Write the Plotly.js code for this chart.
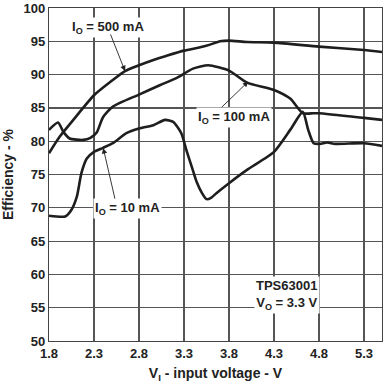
<!DOCTYPE html>
<html><head><meta charset="utf-8">
<script src="https://cdn.plot.ly/plotly-3.0.1.min.js"></script>
<style>html,body{margin:0;padding:0;background:#fff}#c{width:383px;height:392px}</style>
</head><body><div id="c"></div>
<script>
// I_O = 500 mA
const x500 = [1.80,1.92,2.07,2.30,2.51,2.64,2.80,2.96,3.10,3.30,3.48,3.59,3.70,3.80,4.00,4.30,4.80,5.30,5.50];
const y500 = [78.2,80.7,83.2,86.9,89.2,90.5,91.4,92.2,92.8,93.6,94.1,94.5,95.0,95.1,94.9,94.8,94.2,93.7,93.4];
// I_O = 100 mA
const x100 = [1.80,1.90,1.96,2.03,2.18,2.26,2.33,2.40,2.51,2.80,3.03,3.22,3.40,3.57,3.80,4.00,4.30,4.48,4.62,4.74,4.80,5.30,5.50];
const y100 = [81.7,82.8,81.4,80.4,80.2,80.5,81.3,83.6,85.2,87.0,88.4,89.5,90.9,91.4,90.6,88.8,87.7,86.4,84.2,84.2,84.2,83.5,83.2];
// I_O = 10 mA
const x10 = [1.80,1.98,2.05,2.11,2.16,2.22,2.30,2.40,2.51,2.66,2.80,2.96,3.09,3.18,3.27,3.33,3.39,3.44,3.50,3.55,3.60,3.66,3.80,4.00,4.30,4.48,4.62,4.68,4.74,4.81,4.89,4.98,5.30,5.50];
const y10 = [68.8,68.7,69.7,71.7,75.2,77.4,78.4,79.0,79.7,81.2,81.9,82.4,83.2,82.9,81.2,78.5,76.0,73.9,72.2,71.3,71.5,72.2,73.7,75.7,78.4,81.7,84.4,81.7,79.7,79.6,79.8,79.6,79.7,79.3];
// Axis ticks
const xTicks = [1.8,2.3,2.8,3.3,3.8,4.3,4.8,5.3];
const xTickText = ["1.8","2.3","2.8","3.3","3.8","4.3","4.8","5.3"];
const yTicks = [50,55,60,65,70,75,80,85,90,95,100];
const yTickText = ["50","55","60","65","70","75","80","85","90","95","100"];

const FF = '"Liberation Sans", Arial, sans-serif';
const lineStyle = {color:'#1e1e1e', width:2.6, shape:'spline', smoothing:0.6};
const traces = [
  {x:x500, y:y500, mode:'lines', line:lineStyle, hoverinfo:'skip'},
  {x:x100, y:y100, mode:'lines', line:lineStyle, hoverinfo:'skip'},
  {x:x10, y:y10, mode:'lines', line:lineStyle, hoverinfo:'skip'}
];
const af = {family:FF, size:13, color:'#222', weight:700};
const layout = {
  width:383, height:392,
  margin:{l:49, r:1, t:8, b:51},
  paper_bgcolor:'#fff', plot_bgcolor:'#fff',
  showlegend:false,
  font:{family:FF, color:'#222'},
  xaxis:{range:[1.8,5.5], tickvals:xTicks, ticktext:xTickText, showgrid:true, gridcolor:'#555', gridwidth:1.2,
    zeroline:false, showline:true, linecolor:'#444', linewidth:1.2, mirror:true, ticks:'', ticklen:0,
    tickfont:{family:FF, size:13, weight:700, color:'#222'},
    title:{text:'V<sub>I</sub> - input voltage - V', font:{family:FF, size:14, weight:700, color:'#222'}, standoff:8}},
  yaxis:{range:[50,100], tickvals:yTicks, ticktext:yTickText, showgrid:true, gridcolor:'#555', gridwidth:1.2,
    zeroline:false, showline:true, linecolor:'#444', linewidth:1.2, mirror:true, ticks:'', ticklen:0,
    tickfont:{family:FF, size:13, weight:700, color:'#222'},
    title:{text:'Efficiency - %', font:{family:FF, size:14, weight:700, color:'#222'}, standoff:6}},
  annotations:[
    {x:2.456, y:97.0, xref:'x', yref:'y', text:'I<sub>O</sub> = 500 mA', showarrow:false, font:af, bgcolor:'#fff'},
    {x:2.644, y:90.55, xref:'x', yref:'y', text:'', showarrow:true, ax:-15, ay:-38, arrowhead:2, arrowsize:1.2, arrowwidth:0.9, arrowcolor:'#222'},
    {x:3.856, y:83.5, xref:'x', yref:'y', text:'I<sub>O</sub> = 100 mA', showarrow:false, font:af, bgcolor:'#fff'},
    {x:4.014, y:88.95, xref:'x', yref:'y', text:'', showarrow:true, ax:-28, ay:27, arrowhead:2, arrowsize:1.2, arrowwidth:0.9, arrowcolor:'#222'},
    {x:2.667, y:69.85, xref:'x', yref:'y', text:'I<sub>O</sub> = 10 mA', showarrow:false, font:af, bgcolor:'#fff'},
    {x:2.403, y:78.95, xref:'x', yref:'y', text:'', showarrow:true, ax:12, ay:52, arrowhead:2, arrowsize:1.2, arrowwidth:0.9, arrowcolor:'#222'},
    {x:4.444, y:56.95, xref:'x', yref:'y', text:'TPS63001<br>V<sub>O</sub> = 3.3 V', showarrow:false, font:af, bgcolor:'#fff', align:'center'}
  ]
};
Plotly.newPlot('c', traces, layout, {staticPlot:true, displayModeBar:false});
</script></body></html>
